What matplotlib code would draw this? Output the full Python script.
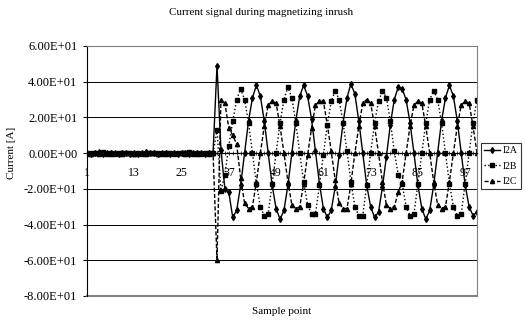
import matplotlib
matplotlib.use('Agg')  # no display
from matplotlib import pyplot as plt  # plotting
from matplotlib.ticker import MultipleLocator, FuncFormatter

plt.rcParams['font.family'] = ['Liberation Serif', 'DejaVu Serif']  # Times-like look of the scan

# sample index (category axis)
sample = list(range(1, 101))

# phase currents, samples 1..100
i2a = [0.3, -0.2, 0.1, 0.4, -0.3, 0.2, -0.1, 0.3, -0.4, 0.2, 0.1, -0.2, 0.3, -0.3, 0.2, 0.4, -0.1,
       0.2, -0.3, 0.1, 0.3, -0.2, 0.2, -0.4, 0.1, 0.3, -0.2, 0.2, -0.1, 0.3, -0.3, 0.1, 0.2,
       49, 2, -20, -22, -36, -32, -18, 0, 18, 31,
       38, 32, 18, 0, -18, -31, -37, -32, -18, 0, 18, 32,
       38, 32, 19, 1, -17, -31, -36, -32, -19, -1, 17, 31,
       39, 33, 18, 0, -18, -30, -36, -33, -19, -2, 16, 30,
       37, 36, 30, 17, 0, -18, -31, -37, -32, -18, 0, 18, 31,
       38, 32, 18, 0, -18, -30, -35, -33]
i2b = [-0.2, 0.3, -0.1, 0.2, 0.4, -0.3, 0.1, -0.2, 0.3, -0.1, 0.2, 0.3, -0.4, 0.1, -0.2, 0.2, 0.3,
       -0.1, 0.2, -0.3, 0.1, 0.2, -0.2, 0.3, -0.1, 0.1, 0.4, -0.3, 0.2, -0.2, 0.1, 0.3, -0.1,
       13, -21, -12, 4, 18, 30, 36, 30, 17, 0,
       -17, -30, -35, -34, -17, 0, 17, 30, 37, 31, 17, 0,
       -16, -29, -34, -34, -18, -1, 16, 29, 35, 30, 17, 1,
       -16, -30, -35, -35, -18, 0, 17, 29, 35, 31, 18, 1,
       -12, -17, -30, -35, -34, -17, 0, 17, 30, 35, 30, 17, 0,
       -17, -30, -35, -34, -17, 0, 17, 30]
i2c = [0.1, -0.3, 0.2, -0.2, 0.1, 0.3, -0.2, 0.2, -0.1, -0.3, 0.2, 0.1, -0.2, 0.3, -0.1, -0.3, 0.2,
       0.1, -0.2, 0.3, -0.3, 0.1, 0.2, -0.1, 0.3, -0.2, -0.1, 0.2, -0.3, 0.1, 0.2, -0.2, 0.1,
       -60, 30, 28, 14, 10, 5, -14, -28, -31, -30,
       -16, 0, 15, 27, 29, 28, 15, 0, -16, -29, -31, -30,
       -17, -1, 14, 27, 29, 29, 16, 1, -15, -28, -31, -31,
       -17, 0, 15, 28, 30, 28, 15, 0, -16, -29, -31, -30,
       -22, -16, 0, 15, 27, 29, 28, 15, 0, -16, -29, -31, -30,
       -16, 0, 15, 27, 29, 28, 15, 0]

y_ticks = [60, 40, 20, 0, -20, -40, -60, -80]
x_labels = [1, 13, 25, 37, 49, 61, 73, 85, 97]

fig = plt.figure(figsize=(5.25, 3.24), dpi=100)
ax = fig.add_axes([87 / 525, 28 / 324, 390 / 525, 250 / 324])  # plot area as in the scan

ax.plot(sample, i2a, color='black', lw=1.0, ls='-', marker='d', ms=3.0, label='I2A')
ax.plot(sample, i2b, color='black', lw=1.0, ls=':', marker='s', ms=2.2, label='I2B')
ax.plot(sample, i2c, color='black', lw=1.0, ls=(0, (3, 1.5)), marker='^', ms=3.0, label='I2C')

ax.set_xlim(1, 100)
ax.set_ylim(-80, 60)
ax.set_yticks(y_ticks)
ax.yaxis.set_major_formatter(FuncFormatter(lambda v, p: f'{v:.2E}'))  # Excel style 6.00E+01
ax.tick_params(axis='y', direction='out', length=3, width=0.8, labelsize=9, pad=4)
ax.grid(axis='y', color='black', lw=0.7)

# category axis crosses at zero
ax.spines['bottom'].set_position(('data', 0))
ax.spines['bottom'].set_linewidth(0.9)
ax.set_xticks(x_labels)
ax.xaxis.set_minor_locator(MultipleLocator(1))
ax.tick_params(axis='x', which='both', direction='inout', length=2.5, width=0.5, labelsize=8.5, pad=9)
for s in ['top', 'right']:
    ax.spines[s].set_color('gray')
ax.axhline(-80, color='gray', lw=1.5, clip_on=False)  # plot area bottom border

fig.text(0.497, 0.962, 'Current signal during magnetizing inrush', ha='center', va='center', fontsize=8)
fig.text(282 / 525, 0.04, 'Sample point', ha='center', va='center', fontsize=8)
fig.text(12 / 525, 0.528, 'Current [A]', ha='center', va='center', rotation=90, fontsize=8)

leg = ax.legend(loc='upper left', bbox_to_anchor=(481 / 525, 181 / 324), bbox_transform=fig.transFigure,
                fontsize=7, frameon=True, fancybox=False, edgecolor='black', handlelength=1.6,
                borderpad=0.35, labelspacing=0.65, handletextpad=0.3, borderaxespad=0)
leg.get_frame().set_linewidth(0.8)

plt.savefig('out.png', dpi=100)
